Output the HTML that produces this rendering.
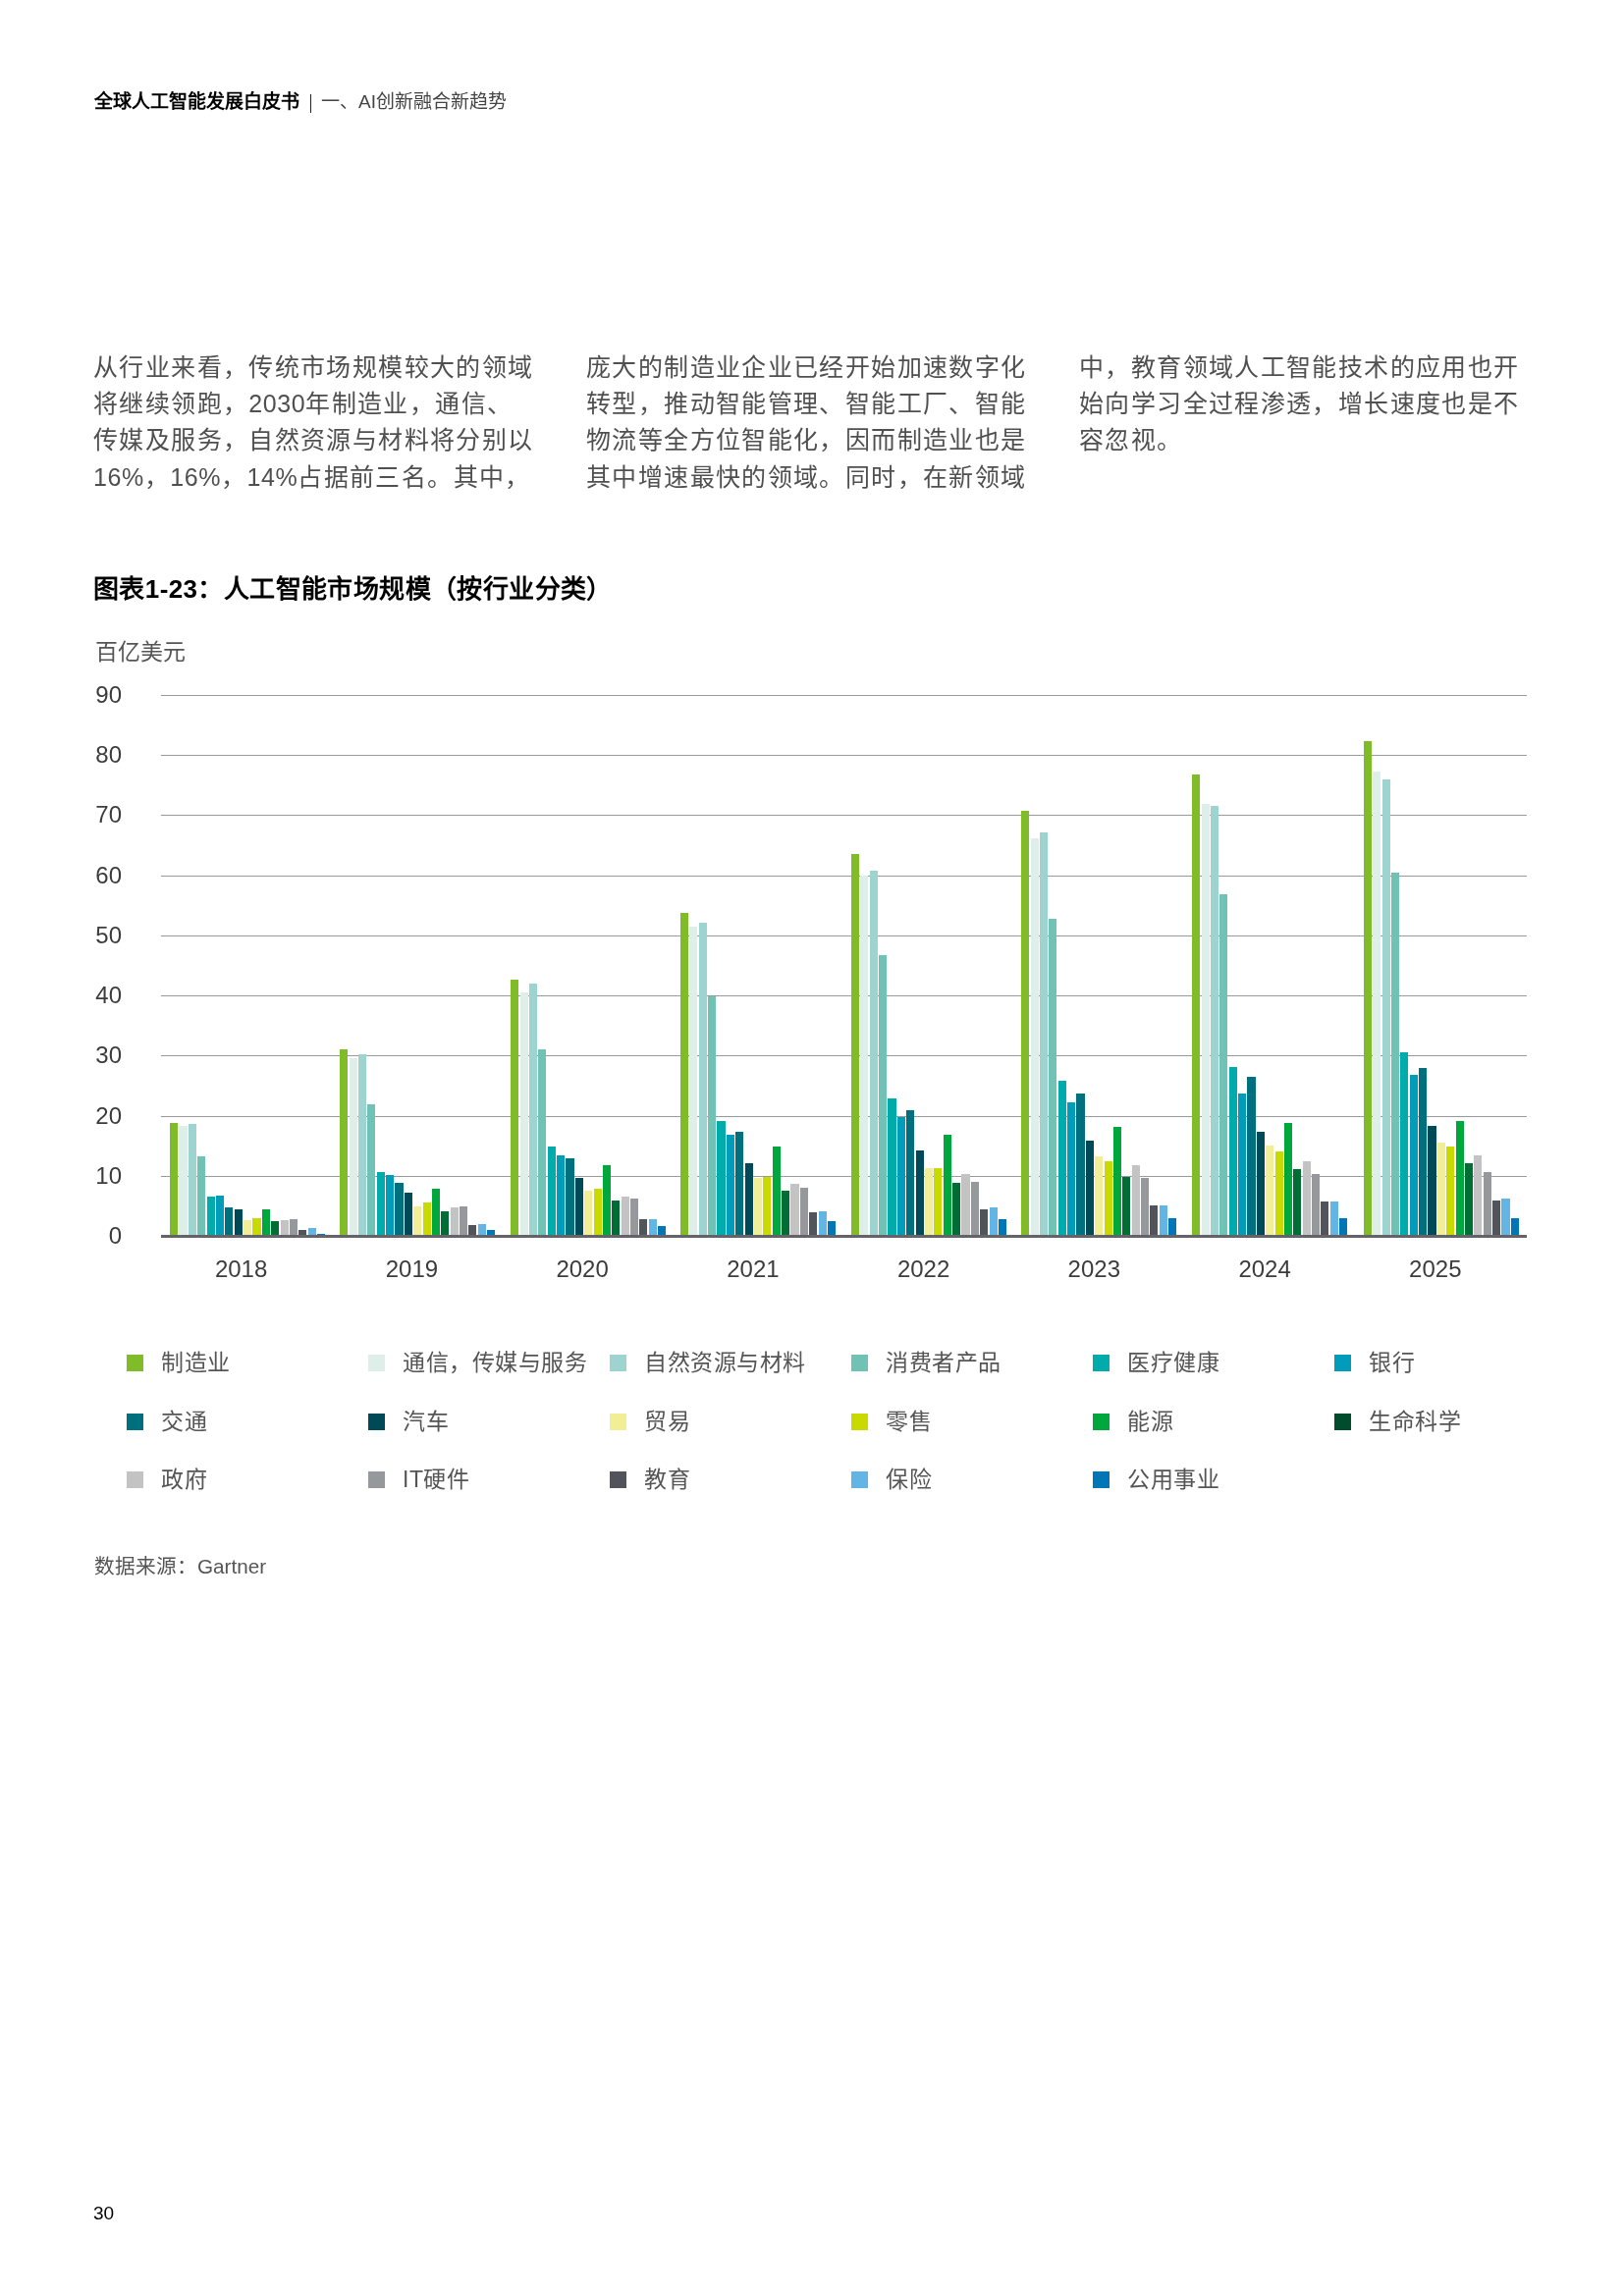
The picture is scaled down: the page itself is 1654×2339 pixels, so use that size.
<!DOCTYPE html>
<html lang="zh-CN"><head><meta charset="utf-8">
<style>
html,body{margin:0;padding:0;background:#fff;}
body{width:1654px;height:2339px;position:relative;overflow:hidden;font-family:"Liberation Sans",sans-serif;color:#000;}
div{position:absolute;white-space:nowrap;}
#wrap{left:0;top:0;width:1654px;height:2339px;will-change:transform;}
.hd{top:92px;font-size:19px;line-height:24px;}
.hd b{font-weight:bold;}
.bt{color:#505050;font-size:25px;letter-spacing:1.375px;line-height:30px;}
.ttl{left:95px;top:584px;font-size:26px;line-height:32px;font-weight:bold;letter-spacing:0.4px}
.unit{color:#555;left:97px;top:650px;font-size:23px;line-height:28px;}
.g{left:164px;width:1391px;height:1px;background:#98999d;}
.ax{left:164px;width:1391px;top:1258px;height:3px;background:#636369;}
.yl{color:#3c3c3c;left:61px;width:63px;text-align:right;font-size:24px;line-height:30px;}
.yr{color:#3c3c3c;top:1278px;width:80px;text-align:center;font-size:24px;line-height:30px;}
.sq{width:17px;height:17px;}
.lt{color:#555;font-size:23px;letter-spacing:0.5px;line-height:32px;}
.src{color:#555;left:96px;top:1582px;font-size:20.7px;line-height:28px;}
.pg{left:95px;top:2243px;font-size:19px;line-height:24px;}
</style></head><body><div id="wrap">
<div class="hd" style="left:96px;font-weight:bold">全球人工智能发展白皮书</div><div style="left:315.5px;top:96px;width:1.2px;height:19px;background:#222"></div><div class="hd" style="left:327px;color:#444">一、AI创新融合新趋势</div>
<div class="bt" style="left:95px;top:358.60px">从行业来看，传统市场规模较大的领域</div><div class="bt" style="left:95px;top:396.00px">将继续领跑，<span style="letter-spacing:0.6px">2030</span>年制造业，通信、</div><div class="bt" style="left:95px;top:433.40px">传媒及服务，自然资源与材料将分别以</div><div class="bt" style="left:95px;top:470.80px"><span style="letter-spacing:0.6px">16%</span>，<span style="letter-spacing:0.6px">16%</span>，<span style="letter-spacing:0.6px">14%</span>占据前三名。其中，</div><div class="bt" style="left:597px;top:358.60px">庞大的制造业企业已经开始加速数字化</div><div class="bt" style="left:597px;top:396.00px">转型，推动智能管理、智能工厂、智能</div><div class="bt" style="left:597px;top:433.40px">物流等全方位智能化，因而制造业也是</div><div class="bt" style="left:597px;top:470.80px">其中增速最快的领域。同时，在新领域</div><div class="bt" style="left:1099px;top:358.60px">中，教育领域人工智能技术的应用也开</div><div class="bt" style="left:1099px;top:396.00px">始向学习全过程渗透，增长速度也是不</div><div class="bt" style="left:1099px;top:433.40px">容忽视。</div>
<div class="ttl">图表1-23：人工智能市场规模（按行业分类）</div>
<div class="unit">百亿美元</div>
<div class="g" style="top:708px"></div><div class="g" style="top:769px"></div><div class="g" style="top:830px"></div><div class="g" style="top:892px"></div><div class="g" style="top:953px"></div><div class="g" style="top:1014px"></div><div class="g" style="top:1075px"></div><div class="g" style="top:1137px"></div><div class="g" style="top:1198px"></div>
<div class="b" style="left:173px;top:1144px;width:8px;height:114px;background:#80bc27"></div><div class="b" style="left:182px;top:1147px;width:9px;height:111px;background:#ddefe8"></div><div class="b" style="left:192px;top:1145px;width:8px;height:113px;background:#9dd4cf"></div><div class="b" style="left:201px;top:1178px;width:8px;height:80px;background:#6fc2b4"></div><div class="b" style="left:211px;top:1219px;width:8px;height:39px;background:#00abab"></div><div class="b" style="left:220px;top:1218px;width:8px;height:40px;background:#009cba"></div><div class="b" style="left:229px;top:1230px;width:8px;height:28px;background:#00707f"></div><div class="b" style="left:239px;top:1232px;width:8px;height:26px;background:#004a58"></div><div class="b" style="left:248px;top:1243px;width:8px;height:15px;background:#f1ee95"></div><div class="b" style="left:257px;top:1241px;width:9px;height:17px;background:#c8da00"></div><div class="b" style="left:267px;top:1232px;width:8px;height:26px;background:#00a73c"></div><div class="b" style="left:276px;top:1244px;width:8px;height:14px;background:#006d35"></div><div class="b" style="left:286px;top:1243px;width:8px;height:15px;background:#c3c3c3"></div><div class="b" style="left:295px;top:1242px;width:8px;height:16px;background:#97989b"></div><div class="b" style="left:304px;top:1253px;width:8px;height:5px;background:#52545c"></div><div class="b" style="left:314px;top:1251px;width:8px;height:7px;background:#62b5e5"></div><div class="b" style="left:323px;top:1257px;width:8px;height:1px;background:#0076b7"></div><div class="b" style="left:346px;top:1069px;width:8px;height:189px;background:#80bc27"></div><div class="b" style="left:356px;top:1078px;width:8px;height:180px;background:#ddefe8"></div><div class="b" style="left:365px;top:1074px;width:8px;height:184px;background:#9dd4cf"></div><div class="b" style="left:374px;top:1125px;width:8px;height:133px;background:#6fc2b4"></div><div class="b" style="left:384px;top:1194px;width:8px;height:64px;background:#00abab"></div><div class="b" style="left:393px;top:1197px;width:8px;height:61px;background:#009cba"></div><div class="b" style="left:402px;top:1205px;width:9px;height:53px;background:#00707f"></div><div class="b" style="left:412px;top:1215px;width:8px;height:43px;background:#004a58"></div><div class="b" style="left:421px;top:1229px;width:8px;height:29px;background:#f1ee95"></div><div class="b" style="left:431px;top:1225px;width:8px;height:33px;background:#c8da00"></div><div class="b" style="left:440px;top:1211px;width:8px;height:47px;background:#00a73c"></div><div class="b" style="left:449px;top:1234px;width:8px;height:24px;background:#006d35"></div><div class="b" style="left:459px;top:1230px;width:8px;height:28px;background:#c3c3c3"></div><div class="b" style="left:468px;top:1229px;width:8px;height:29px;background:#97989b"></div><div class="b" style="left:477px;top:1248px;width:8px;height:10px;background:#52545c"></div><div class="b" style="left:487px;top:1247px;width:8px;height:11px;background:#62b5e5"></div><div class="b" style="left:496px;top:1253px;width:8px;height:5px;background:#0076b7"></div><div class="b" style="left:520px;top:998px;width:8px;height:260px;background:#80bc27"></div><div class="b" style="left:530px;top:1011px;width:8px;height:247px;background:#ddefe8"></div><div class="b" style="left:539px;top:1002px;width:8px;height:256px;background:#9dd4cf"></div><div class="b" style="left:548px;top:1069px;width:8px;height:189px;background:#6fc2b4"></div><div class="b" style="left:558px;top:1168px;width:8px;height:90px;background:#00abab"></div><div class="b" style="left:567px;top:1177px;width:8px;height:81px;background:#009cba"></div><div class="b" style="left:576px;top:1180px;width:9px;height:78px;background:#00707f"></div><div class="b" style="left:586px;top:1200px;width:8px;height:58px;background:#004a58"></div><div class="b" style="left:595px;top:1213px;width:8px;height:45px;background:#f1ee95"></div><div class="b" style="left:605px;top:1211px;width:8px;height:47px;background:#c8da00"></div><div class="b" style="left:614px;top:1187px;width:8px;height:71px;background:#00a73c"></div><div class="b" style="left:623px;top:1223px;width:8px;height:35px;background:#006d35"></div><div class="b" style="left:633px;top:1219px;width:8px;height:39px;background:#c3c3c3"></div><div class="b" style="left:642px;top:1221px;width:8px;height:37px;background:#97989b"></div><div class="b" style="left:651px;top:1242px;width:8px;height:16px;background:#52545c"></div><div class="b" style="left:661px;top:1242px;width:8px;height:16px;background:#62b5e5"></div><div class="b" style="left:670px;top:1249px;width:8px;height:9px;background:#0076b7"></div><div class="b" style="left:693px;top:930px;width:8px;height:328px;background:#80bc27"></div><div class="b" style="left:702px;top:944px;width:8px;height:314px;background:#ddefe8"></div><div class="b" style="left:712px;top:940px;width:8px;height:318px;background:#9dd4cf"></div><div class="b" style="left:721px;top:1015px;width:8px;height:243px;background:#6fc2b4"></div><div class="b" style="left:730px;top:1142px;width:9px;height:116px;background:#00abab"></div><div class="b" style="left:740px;top:1156px;width:8px;height:102px;background:#009cba"></div><div class="b" style="left:749px;top:1153px;width:8px;height:105px;background:#00707f"></div><div class="b" style="left:759px;top:1185px;width:8px;height:73px;background:#004a58"></div><div class="b" style="left:768px;top:1200px;width:8px;height:58px;background:#f1ee95"></div><div class="b" style="left:777px;top:1199px;width:8px;height:59px;background:#c8da00"></div><div class="b" style="left:787px;top:1168px;width:8px;height:90px;background:#00a73c"></div><div class="b" style="left:796px;top:1213px;width:8px;height:45px;background:#006d35"></div><div class="b" style="left:805px;top:1206px;width:9px;height:52px;background:#c3c3c3"></div><div class="b" style="left:815px;top:1210px;width:8px;height:48px;background:#97989b"></div><div class="b" style="left:824px;top:1235px;width:8px;height:23px;background:#52545c"></div><div class="b" style="left:834px;top:1234px;width:8px;height:24px;background:#62b5e5"></div><div class="b" style="left:843px;top:1244px;width:8px;height:14px;background:#0076b7"></div><div class="b" style="left:867px;top:870px;width:8px;height:388px;background:#80bc27"></div><div class="b" style="left:876px;top:892px;width:8px;height:366px;background:#ddefe8"></div><div class="b" style="left:886px;top:887px;width:8px;height:371px;background:#9dd4cf"></div><div class="b" style="left:895px;top:973px;width:8px;height:285px;background:#6fc2b4"></div><div class="b" style="left:904px;top:1119px;width:9px;height:139px;background:#00abab"></div><div class="b" style="left:914px;top:1138px;width:8px;height:120px;background:#009cba"></div><div class="b" style="left:923px;top:1131px;width:8px;height:127px;background:#00707f"></div><div class="b" style="left:933px;top:1172px;width:8px;height:86px;background:#004a58"></div><div class="b" style="left:942px;top:1190px;width:8px;height:68px;background:#f1ee95"></div><div class="b" style="left:951px;top:1190px;width:8px;height:68px;background:#c8da00"></div><div class="b" style="left:961px;top:1156px;width:8px;height:102px;background:#00a73c"></div><div class="b" style="left:970px;top:1205px;width:8px;height:53px;background:#006d35"></div><div class="b" style="left:979px;top:1196px;width:9px;height:62px;background:#c3c3c3"></div><div class="b" style="left:989px;top:1204px;width:8px;height:54px;background:#97989b"></div><div class="b" style="left:998px;top:1232px;width:8px;height:26px;background:#52545c"></div><div class="b" style="left:1008px;top:1230px;width:8px;height:28px;background:#62b5e5"></div><div class="b" style="left:1017px;top:1242px;width:8px;height:16px;background:#0076b7"></div><div class="b" style="left:1040px;top:826px;width:8px;height:432px;background:#80bc27"></div><div class="b" style="left:1050px;top:854px;width:8px;height:404px;background:#ddefe8"></div><div class="b" style="left:1059px;top:848px;width:8px;height:410px;background:#9dd4cf"></div><div class="b" style="left:1068px;top:936px;width:8px;height:322px;background:#6fc2b4"></div><div class="b" style="left:1078px;top:1101px;width:8px;height:157px;background:#00abab"></div><div class="b" style="left:1087px;top:1123px;width:8px;height:135px;background:#009cba"></div><div class="b" style="left:1096px;top:1114px;width:9px;height:144px;background:#00707f"></div><div class="b" style="left:1106px;top:1162px;width:8px;height:96px;background:#004a58"></div><div class="b" style="left:1115px;top:1178px;width:8px;height:80px;background:#f1ee95"></div><div class="b" style="left:1125px;top:1183px;width:8px;height:75px;background:#c8da00"></div><div class="b" style="left:1134px;top:1148px;width:8px;height:110px;background:#00a73c"></div><div class="b" style="left:1143px;top:1199px;width:8px;height:59px;background:#006d35"></div><div class="b" style="left:1153px;top:1187px;width:8px;height:71px;background:#c3c3c3"></div><div class="b" style="left:1162px;top:1200px;width:8px;height:58px;background:#97989b"></div><div class="b" style="left:1171px;top:1228px;width:8px;height:30px;background:#52545c"></div><div class="b" style="left:1181px;top:1228px;width:8px;height:30px;background:#62b5e5"></div><div class="b" style="left:1190px;top:1241px;width:8px;height:17px;background:#0076b7"></div><div class="b" style="left:1214px;top:789px;width:8px;height:469px;background:#80bc27"></div><div class="b" style="left:1224px;top:819px;width:8px;height:439px;background:#ddefe8"></div><div class="b" style="left:1233px;top:821px;width:8px;height:437px;background:#9dd4cf"></div><div class="b" style="left:1242px;top:911px;width:8px;height:347px;background:#6fc2b4"></div><div class="b" style="left:1252px;top:1087px;width:8px;height:171px;background:#00abab"></div><div class="b" style="left:1261px;top:1114px;width:8px;height:144px;background:#009cba"></div><div class="b" style="left:1270px;top:1097px;width:9px;height:161px;background:#00707f"></div><div class="b" style="left:1280px;top:1153px;width:8px;height:105px;background:#004a58"></div><div class="b" style="left:1289px;top:1167px;width:8px;height:91px;background:#f1ee95"></div><div class="b" style="left:1299px;top:1173px;width:8px;height:85px;background:#c8da00"></div><div class="b" style="left:1308px;top:1144px;width:8px;height:114px;background:#00a73c"></div><div class="b" style="left:1317px;top:1191px;width:8px;height:67px;background:#006d35"></div><div class="b" style="left:1327px;top:1183px;width:8px;height:75px;background:#c3c3c3"></div><div class="b" style="left:1336px;top:1196px;width:8px;height:62px;background:#97989b"></div><div class="b" style="left:1345px;top:1224px;width:8px;height:34px;background:#52545c"></div><div class="b" style="left:1355px;top:1224px;width:8px;height:34px;background:#62b5e5"></div><div class="b" style="left:1364px;top:1241px;width:8px;height:17px;background:#0076b7"></div><div class="b" style="left:1389px;top:755px;width:8px;height:503px;background:#80bc27"></div><div class="b" style="left:1398px;top:786px;width:8px;height:472px;background:#ddefe8"></div><div class="b" style="left:1408px;top:794px;width:8px;height:464px;background:#9dd4cf"></div><div class="b" style="left:1417px;top:889px;width:8px;height:369px;background:#6fc2b4"></div><div class="b" style="left:1426px;top:1072px;width:8px;height:186px;background:#00abab"></div><div class="b" style="left:1436px;top:1095px;width:8px;height:163px;background:#009cba"></div><div class="b" style="left:1445px;top:1088px;width:8px;height:170px;background:#00707f"></div><div class="b" style="left:1454px;top:1147px;width:9px;height:111px;background:#004a58"></div><div class="b" style="left:1464px;top:1164px;width:8px;height:94px;background:#f1ee95"></div><div class="b" style="left:1473px;top:1168px;width:8px;height:90px;background:#c8da00"></div><div class="b" style="left:1483px;top:1142px;width:8px;height:116px;background:#00a73c"></div><div class="b" style="left:1492px;top:1185px;width:8px;height:73px;background:#006d35"></div><div class="b" style="left:1501px;top:1177px;width:8px;height:81px;background:#c3c3c3"></div><div class="b" style="left:1511px;top:1194px;width:8px;height:64px;background:#97989b"></div><div class="b" style="left:1520px;top:1223px;width:8px;height:35px;background:#52545c"></div><div class="b" style="left:1529px;top:1221px;width:9px;height:37px;background:#62b5e5"></div><div class="b" style="left:1539px;top:1241px;width:8px;height:17px;background:#0076b7"></div>
<div class="ax"></div>
<div class="yl" style="top:693px">90</div><div class="yl" style="top:754px">80</div><div class="yl" style="top:815px">70</div><div class="yl" style="top:877px">60</div><div class="yl" style="top:938px">50</div><div class="yl" style="top:999px">40</div><div class="yl" style="top:1060px">30</div><div class="yl" style="top:1122px">20</div><div class="yl" style="top:1183px">10</div><div class="yl" style="top:1244px">0</div>
<div class="yr" style="left:205.6px">2018</div><div class="yr" style="left:379.4px">2019</div><div class="yr" style="left:553.1px">2020</div><div class="yr" style="left:726.9px">2021</div><div class="yr" style="left:900.6px">2022</div><div class="yr" style="left:1074.3px">2023</div><div class="yr" style="left:1248.1px">2024</div><div class="yr" style="left:1421.8px">2025</div>
<div class="sq" style="left:129px;top:1380px;background:#80bc27"></div><div class="lt" style="left:164px;top:1372px">制造业</div><div class="sq" style="left:375px;top:1380px;background:#ddefe8"></div><div class="lt" style="left:410px;top:1372px">通信，传媒与服务</div><div class="sq" style="left:621px;top:1380px;background:#9dd4cf"></div><div class="lt" style="left:656px;top:1372px">自然资源与材料</div><div class="sq" style="left:867px;top:1380px;background:#6fc2b4"></div><div class="lt" style="left:902px;top:1372px">消费者产品</div><div class="sq" style="left:1113px;top:1380px;background:#00abab"></div><div class="lt" style="left:1148px;top:1372px">医疗健康</div><div class="sq" style="left:1359px;top:1380px;background:#009cba"></div><div class="lt" style="left:1394px;top:1372px">银行</div><div class="sq" style="left:129px;top:1440px;background:#00707f"></div><div class="lt" style="left:164px;top:1432px">交通</div><div class="sq" style="left:375px;top:1440px;background:#004a58"></div><div class="lt" style="left:410px;top:1432px">汽车</div><div class="sq" style="left:621px;top:1440px;background:#f1ee95"></div><div class="lt" style="left:656px;top:1432px">贸易</div><div class="sq" style="left:867px;top:1440px;background:#c8da00"></div><div class="lt" style="left:902px;top:1432px">零售</div><div class="sq" style="left:1113px;top:1440px;background:#00a73c"></div><div class="lt" style="left:1148px;top:1432px">能源</div><div class="sq" style="left:1359px;top:1440px;background:#004c2d"></div><div class="lt" style="left:1394px;top:1432px">生命科学</div><div class="sq" style="left:129px;top:1499px;background:#c3c3c3"></div><div class="lt" style="left:164px;top:1491px">政府</div><div class="sq" style="left:375px;top:1499px;background:#97989b"></div><div class="lt" style="left:410px;top:1491px">IT硬件</div><div class="sq" style="left:621px;top:1499px;background:#52545c"></div><div class="lt" style="left:656px;top:1491px">教育</div><div class="sq" style="left:867px;top:1499px;background:#62b5e5"></div><div class="lt" style="left:902px;top:1491px">保险</div><div class="sq" style="left:1113px;top:1499px;background:#0076b7"></div><div class="lt" style="left:1148px;top:1491px">公用事业</div>
<div class="src">数据来源：Gartner</div>
<div class="pg">30</div>
</div></body></html>
